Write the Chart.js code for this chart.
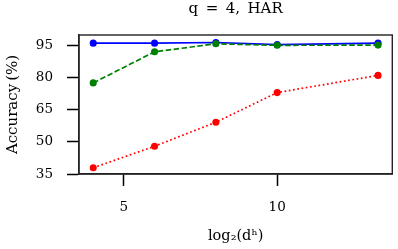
<!DOCTYPE html>
<html>
<head>
<meta charset="utf-8">
<script src="https://cdn.jsdelivr.net/npm/chart.js@4/dist/chart.umd.min.js"></script>
<style>
  html, body { margin: 0; padding: 0; background: #fff; }
  canvas { display: block; }
</style>
</head>
<body>
<canvas id="accChart" width="398" height="249"></canvas>
<script>
// x = log2(d^h)
const xValues = [4, 6, 8, 10, 13.29];
const blueValues = [95.9, 95.9, 96.2, 95.2, 95.9];
const greenValues = [77.4, 91.9, 95.6, 94.9, 95.0];
const redValues = [37.9, 47.9, 59.1, 72.9, 80.9];
const xTicks = [5, 10];
const yTicks = [35, 50, 65, 80, 95];

const serif = "'DejaVu Serif', 'Liberation Serif', serif";

function toPoints(ys) {
    return xValues.map((x, i) => ({ x: x, y: ys[i] }));
}

// draws the top and right edges so the plot has a full box
const frameBox = {
    id: 'frameBox',
    afterDraw(chart) {
        const a = chart.chartArea;
        const ctx = chart.ctx;
        ctx.save();
        ctx.strokeStyle = '#222';
        ctx.lineWidth = 1.4;
        ctx.strokeRect(a.left, a.top, a.right - a.left, a.bottom - a.top);
        ctx.restore();
    }
};

const ctx = document.getElementById("accChart").getContext('2d');
const accChart = new Chart(ctx, {
    type: 'line',
    data: {
        datasets: [
            {
                data: toPoints(redValues),
                borderColor: '#ff0000',
                backgroundColor: '#ff0000',
                borderWidth: 1.7,
                borderDash: [1.7, 2.6],
                pointRadius: 2.7,
                tension: 0
            },
            {
                data: toPoints(greenValues),
                borderColor: '#008000',
                backgroundColor: '#008000',
                borderWidth: 1.7,
                borderDash: [5.5, 2.5],
                pointRadius: 2.7,
                tension: 0
            },
            {
                data: toPoints(blueValues),
                borderColor: '#0000ff',
                backgroundColor: '#0000ff',
                borderWidth: 1.7,
                pointRadius: 2.7,
                tension: 0
            }
        ]
    },
    options: {
        responsive: false,
        animation: false,
        devicePixelRatio: 1,
        layout: { padding: { left: 0, right: 5, top: 0, bottom: 0 } },
        plugins: {
            legend: { display: false },
            tooltip: { enabled: false },
            title: {
                display: true,
                fullSize: false,
                text: 'q\u2002=\u20024,\u2002HAR',
                color: '#000',
                font: { family: serif, size: 15, weight: 'normal' },
                padding: { top: 0, bottom: 17 }
            }
        },
        scales: {
            x: {
                type: 'linear',
                min: 3.5355,
                max: 13.7545,
                afterBuildTicks: (scale) => { scale.ticks = xTicks.map(v => ({ value: v })); },
                afterFit: (scale) => { scale.height = 75; },
                grid: { drawOnChartArea: false, drawTicks: true, tickLength: 12, color: '#000', tickWidth: 1.5 },
                border: { display: true, color: '#222', width: 1.4 },
                ticks: { color: '#000', font: { family: serif, size: 13.5 }, padding: 13, maxRotation: 0 },
                title: {
                    display: true,
                    text: 'log\u2082(d\u02b0)',
                    color: '#000',
                    font: { family: serif, size: 14.5 },
                    padding: { top: 0, bottom: 4 }
                }
            },
            y: {
                min: 35,
                max: 99.7,
                afterBuildTicks: (scale) => { scale.ticks = yTicks.map(v => ({ value: v })); },
                afterFit: (scale) => { scale.width = 79; },
                grid: { drawOnChartArea: false, drawTicks: true, tickLength: 12, color: '#000', tickWidth: 1.5 },
                border: { display: true, color: '#222', width: 1.4 },
                ticks: { color: '#000', font: { family: serif, size: 13.5 }, padding: 14 },
                title: {
                    display: true,
                    text: 'Accuracy\u2009(%)',
                    color: '#000',
                    font: { family: serif, size: 15 },
                    padding: { top: 4, bottom: 0 }
                }
            }
        }
    },
    plugins: [frameBox]
});
</script>
</body>
</html>
